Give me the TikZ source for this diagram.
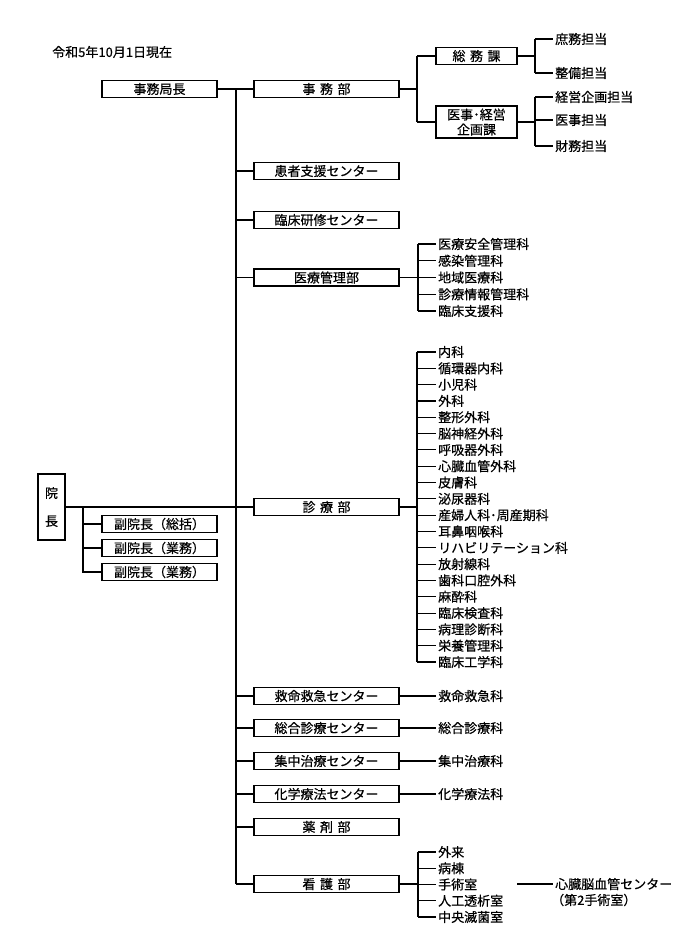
\documentclass[tikz,border=0pt]{standalone}
\usepackage{fontspec}
\setmainfont{Noto Sans CJK JP}[FakeBold=0.5]
\usetikzlibrary{calc}

\newcommand{\gap}{\hspace{4.5bp}}
\tikzset{
  unit/.style={draw, line width=1.1bp, minimum width=145bp, minimum height=17bp, inner sep=0pt},
  small/.style={unit, minimum width=115bp},
  ka/.style={unit, minimum width=81bp},
  item/.style={anchor=west, inner sep=2bp},
  link/.style={line width=1.1bp},
}

\begin{document}
\begin{tikzpicture}[x=1bp, y=-1bp, font=\fontsize{13bp}{15bp}\selectfont]
            \useasboundingbox (0,0) rectangle (683,945);

            \node[anchor=west, inner sep=0pt] (date) at (52,52) {令和5年10月1日現在};

            % left column
            \node[draw, line width=1.1bp, minimum width=27bp, minimum height=66bp, inner sep=0pt, align=center] (incho) at (51.5,507) {院\\[13bp]長};
            \node[small] (kyokucho) at (159.5,89) {事務局長};
            \node[small] (fuku1) at (159.5,524) {副院長（総括）};
            \node[small] (fuku2) at (159.5,548) {副院長（業務）};
            \node[small] (fuku3) at (159.5,572) {副院長（業務）};

            % departments
            \node[unit] (jimubu) at (326.5,89) {事\gap 務\gap 部};
            \node[unit] (kanja) at (326.5,171) {患者支援センター};
            \node[unit] (kenshu) at (326.5,220) {臨床研修センター};
            \node[unit] (iryokanri) at (326.5,277.5) {医療管理部};
            \node[unit] (shinryo) at (326.5,507) {診\gap 療\gap 部};
            \node[unit] (kyumei) at (326.5,696) {救命救急センター};
            \node[unit] (sogo) at (326.5,728) {総合診療センター};
            \node[unit] (shuchu) at (326.5,761) {集中治療センター};
            \node[unit] (kagaku) at (326.5,794) {化学療法センター};
            \node[unit] (yakuzai) at (326.5,827) {薬\gap 剤\gap 部};
            \node[unit] (kango) at (326.5,884) {看\gap 護\gap 部};

            % sections of the office
            \node[ka] (somu) at (476.5,56) {総\gap 務\gap 課};
            \node[ka, minimum height=32bp, align=center] (iji) at (476.5,122) {医事･経営\\企画課};
            \node[item] (shomu) at (553,39) {庶務担当};
            \node[item] (seibi) at (553,73) {整備担当};
            \node[item] (keiei) at (553,97) {経営企画担当};
            \node[item] (ijit) at (553,120) {医事担当};
            \node[item] (zaimu) at (553,146) {財務担当};

            % lists
            \foreach \t [count=\i] in {医療安全管理科, 感染管理科, 地域医療科, 診療情報管理科, 臨床支援科}
                \node[item] (ik\i) at (436,{244+(\i-1)*16.75}) {\t};
            \foreach \t [count=\i] in {内科, 循環器内科, 小児科, 外科, 整形外科, 脳神経外科, 呼吸器外科, 心臓血管外科, 皮膚科, 泌尿器科, 産婦人科･周産期科, 耳鼻咽喉科, リハビリテーション科, 放射線科, 歯科口腔外科, 麻酔科, 臨床検査科, 病理診断科, 栄養管理科, 臨床工学科}
                \node[item] (sh\i) at (436,{352+(\i-1)*16.316}) {\t};
            \foreach \t [count=\i] in {外来, 病棟, 手術室, 人工透析室, 中央滅菌室}
                \node[item] (kg\i) at (436,{852+(\i-1)*16.25}) {\t};

            \node[item] (kyumeika) at (436,696) {救命救急科};
            \node[item] (sogoka) at (436,728) {総合診療科};
            \node[item] (shuchuka) at (436,761) {集中治療科};
            \node[item] (kagakuka) at (436,794) {化学療法科};
            \node[item] (shinzo) at (553,884) {心臓脳血管センター};
            \node[item] (dai2) at (549,900) {（第2手術室）};

            % trunk
            \coordinate (trtop) at (236,89);
            \coordinate (trbot) at (236,884);
            \draw[link] (trtop) -- (trbot);
            \draw[link] (kyokucho) -- (jimubu);
            \draw[link] (incho) -- (shinryo);
            \foreach \d in {kanja, kenshu, iryokanri, kyumei, sogo, shuchu, kagaku, yakuzai, kango}
                \draw[link] (trtop |- \d.west) -- (\d.west);

            % vice directors
            \coordinate (fb) at (83,507);
            \draw[link] (fb) |- (fuku3.west);
            \draw[link] (fb |- fuku1.west) -- (fuku1.west);
            \draw[link] (fb |- fuku2.west) -- (fuku2.west);

            % office
            \coordinate (jb) at (417,89);
            \draw[link] (jimubu) -- (jb);
            \draw[link] (jb |- somu.west) -- (jb |- iji.west);
            \draw[link] (jb |- somu.west) -- (somu.west);
            \draw[link] (jb |- iji.west) -- (iji.west);
            \coordinate (sb) at (535,56);
            \draw[link] (somu) -- (sb);
            \draw[link] (sb |- shomu.west) -- (sb |- seibi.west);
            \draw[link] (sb |- shomu.west) -- (shomu.west);
            \draw[link] (sb |- seibi.west) -- (seibi.west);
            \coordinate (ib) at (535,122);
            \draw[link] (iji) -- (ib);
            \draw[link] (ib |- keiei.west) -- (ib |- zaimu.west);
            \foreach \n in {keiei, ijit, zaimu}
                \draw[link] (ib |- \n.west) -- (\n.west);

            % brackets of the lists
            \coordinate (ikb) at (418,277.5);
            \draw[link] (iryokanri) -- (ikb);
            \draw[link] (ikb |- ik1.west) -- (ikb |- ik5.west);
            \foreach \i in {1,...,5}
                \draw[link] (ikb |- ik\i.west) -- (ik\i.west);

            \coordinate (shb) at (417,507);
            \draw[link] (shinryo) -- (shb);
            \draw[link] (shb |- sh1.west) -- (shb |- sh20.west);
            \foreach \i in {1,...,20}
                \draw[link] (shb |- sh\i.west) -- (sh\i.west);

            \coordinate (kgb) at (418,884);
            \draw[link] (kango) -- (kgb);
            \draw[link] (kgb |- kg1.west) -- (kgb |- kg5.west);
            \foreach \i in {1,...,5}
                \draw[link] (kgb |- kg\i.west) -- (kg\i.west);

            % centres
            \draw[link] (kyumei) -- (kyumeika);
            \draw[link] (sogo) -- (sogoka);
            \draw[link] (shuchu) -- (shuchuka);
            \draw[link] (kagaku) -- (kagakuka);
            \coordinate (opgap) at (517,884);
            \draw[link] (opgap) -- (shinzo);
        \end{tikzpicture}
\end{document}
